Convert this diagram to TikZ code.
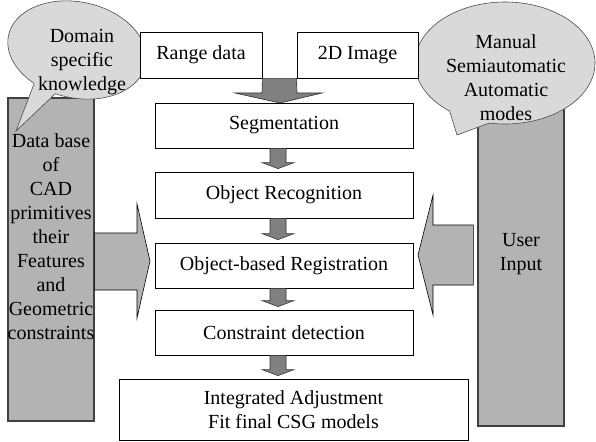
\documentclass[tikz,border=0pt]{standalone}
\usepackage{fontspec}
\setmainfont{Liberation Serif}
\usetikzlibrary{calc}
\definecolor{colgray}{HTML}{B3B3B3}
\definecolor{bubblegray}{HTML}{D9D9D9}
\definecolor{arrowgray}{HTML}{808080}

% gray down arrow between two stacked step boxes
\newcommand\flowstep[2]{%
  \path[flowarrow] let \p1=([xshift=-6pt]#1.south), \p2=([xshift=-6pt]#2.north) in
    (\x1-8pt,\y1) -- (\x1+8pt,\y1) -- (\x1+8pt,\y2+9pt) -- (\x1+16pt,\y2+9pt)
    -- (\x1,\y2+3pt) -- (\x1-16pt,\y2+9pt) -- (\x1-8pt,\y2+9pt) -- cycle;}

% speech bubble: centre x, centre y, radii, tilt (clockwise), tail attach points (outer, inner) and tip
\newcommand\speechbubble[9]{%
  \draw[bubble] plot[domain=0:360, samples=120, smooth cycle]
    ({#1+#3*cos(\x)*cos(#5)-#4*sin(\x)*sin(#5)}, {#2+#3*cos(\x)*sin(#5)+#4*sin(\x)*cos(#5)});
  \fill[bubblegray] #9 -- #6 -- #7 -- #8 -- cycle;
  \draw[bubbleline] #6 -- #9 -- #8;}

\begin{document}
\begin{tikzpicture}[x=1pt,y=-1pt,
  every node/.style={font=\fontsize{20}{24}\selectfont, inner sep=0pt},
  stepbox/.style={draw=black, fill=white, line width=0.8pt,
    minimum width=258pt, minimum height=45pt},
  column/.style={draw=black!75, fill=colgray, line width=1.2pt},
  bubble/.style={draw=black!70, fill=bubblegray, line width=0.6pt},
  bubbleline/.style={draw=black!70, line width=0.6pt, line join=miter},
  flowarrow/.style={draw=black!80, fill=arrowgray, line width=0.6pt},
  sidearrow/.style={draw=black, fill=colgray, line width=0.6pt}]

\useasboundingbox (0,0) rectangle (596,441);

% side columns
\node[column, minimum width=86pt, minimum height=323pt] (db) at (51,259.5) {};
\node[column, minimum width=86pt, minimum height=336pt] (user) at (521,258) {};
\node[align=center] (dbtext) at (51,237)
  {Data base\\of\\CAD\\primitives\\their\\Features\\and\\Geometric\\constraints};
\node[align=center] (usertext) at (521,254.5) {User\\Input};

% speech bubbles (tail polygon: outer point, inner point, inner point / outer point, tip)
\speechbubble{77}{50}{70}{48}{12}{(34.2,83.4)}{(50,70)}{(55.3,93.7)}{(16,131)}
\speechbubble{505}{63}{90}{61}{0}{(449.6,111)}{(476,95)}{(489.4,123)}{(457,135)}
\node[align=center] (knowledge) at (82,62.5) {Domain\\specific\\knowledge};
\node[align=center] (modes) at (506,78) {Manual\\Semiautomatic\\Automatic\\modes};

% processing chain
\node[stepbox, minimum width=122pt, minimum height=46pt] (range) at (201,55) {Range data};
\node[stepbox, minimum width=121pt, minimum height=46pt] (img) at (357.5,55) {2D Image};
\node[stepbox] (seg) at (284,125.5) {Segmentation};
\node[stepbox, minimum height=46pt] (rec) at (284,195) {Object Recognition};
\node[stepbox] (reg) at (284,265.5) {Object-based Registration};
\node[stepbox] (con) at (284,332.5) {Constraint detection};
\node[stepbox, minimum width=349pt, minimum height=61pt, align=center] (fit)
  at (293.5,409.5) {Integrated Adjustment\\Fit final CSG models};

% merged input arrow
\path[flowarrow] (range.south east) -- (262,93) -- (235,93) -- (280,103)
  -- (322,93) -- (297,93) -- (img.south west) -- cycle;

\flowstep{seg}{rec}
\flowstep{rec}{reg}
\flowstep{reg}{con}
\flowstep{con}{fit}

% knowledge and user input feeding the registration
\path[sidearrow] (db.east |- 0,233) -- (137,233) -- (137,204) -- (150,261)
  -- (137,318) -- (137,290) -- (db.east |- 0,290) -- cycle;
\path[sidearrow] ([xshift=-4pt]user.west |- 0,225) -- (433,225) -- (433,195)
  -- (418,255) -- (433,315) -- (433,285) -- ([xshift=-4pt]user.west |- 0,285) -- cycle;
\end{tikzpicture}
\end{document}
